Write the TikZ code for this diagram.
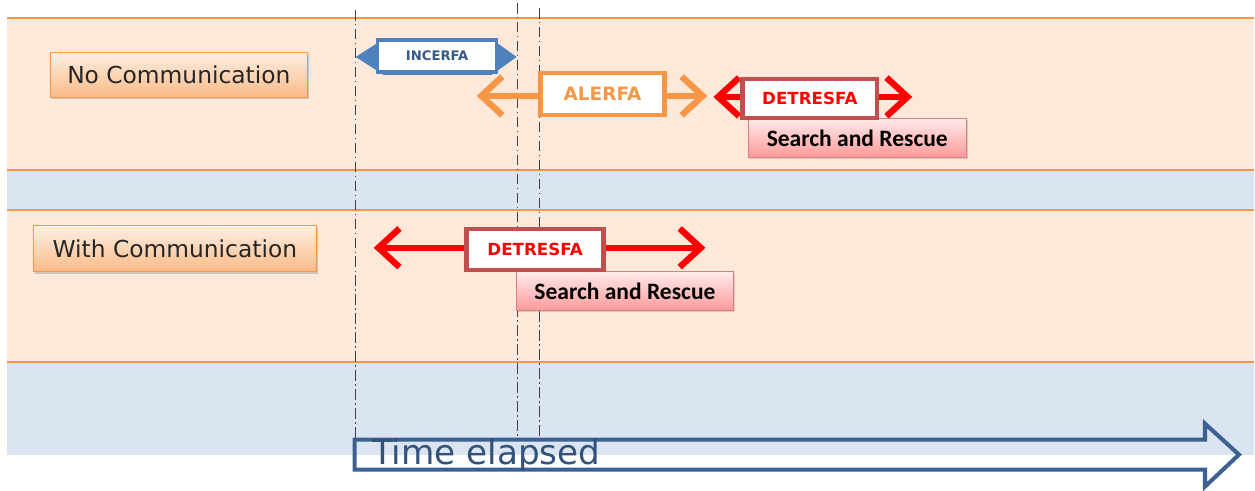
\documentclass[tikz,border=0pt]{standalone}
\usepackage{fontspec}
\setmainfont{DejaVu Sans}
\newfontfamily\calibri{Carlito}
\usetikzlibrary{arrows.meta,shadows}

\definecolor{peach}{HTML}{FDE9D9}
\definecolor{paleblue}{HTML}{DBE5F1}
\definecolor{lineorange}{HTML}{F79646}
\definecolor{incblue}{HTML}{4F81BD}
\definecolor{darkred}{HTML}{C0504D}
\definecolor{timeblue}{HTML}{3B6091}

\begin{document}
\begin{tikzpicture}[x=0.02cm, y=-0.02cm,
    rowbox/.style={draw=lineorange, top color=lineorange!15, bottom color=lineorange!65,
      minimum height=0.9cm, font=\fontsize{13.3}{15}\selectfont, text=black!85,
      drop shadow={opacity=0.35, shadow xshift=1pt, shadow yshift=-1.2pt}},
    phase/.style={fill=white, minimum height=0.8cm, font=\fontsize{9.5}{11}\selectfont\bfseries},
    sar/.style={draw=darkred!70, top color=red!8, bottom color=red!40, minimum width=4.35cm,
      minimum height=0.78cm, font=\calibri\fontsize{13.4}{15}\selectfont\bfseries,
      drop shadow={opacity=0.3, shadow xshift=1pt, shadow yshift=-1pt}},
    span/.style={line width=3.6pt, line cap=round, line join=round,
      {Straight Barb[length=12pt, width=22pt]}-{Straight Barb[length=12pt, width=22pt]}},
    mark line/.style={dash pattern=on 6pt off 2pt on 0.8pt off 2pt, line width=0.9pt, black!75}]

  % background bands
  \fill[peach] (7,18) rectangle (1255,170);
  \fill[paleblue] (7,170) rectangle (1255,210);
  \fill[peach] (7,210) rectangle (1255,362);
  \fill[paleblue] (7,362) rectangle (1255,455);
  \foreach \y in {18,170,210,362}
    \draw[lineorange, line width=1.2pt] (7,\y) -- (1255,\y);

  % time marks
  \coordinate (m1t) at (356,10);  \coordinate (m1b) at (356,440);
  \coordinate (m2t) at (518,3);   \coordinate (m2b) at (518,440);
  \coordinate (m3t) at (540,8);   \coordinate (m3b) at (540,440);
  \draw[mark line] (m1t) -- (m1b);
  \draw[mark line] (m2t) -- (m2b);
  \draw[mark line] (m3t) -- (m3b);

  \node[rowbox, minimum width=5.16cm] (nocom) at (179,74.5) {No Communication};
  \node[rowbox, minimum width=5.68cm, minimum height=0.92cm] (withcom) at (175,249) {With Communication};

  % no communication
  \fill[incblue] (356,57) -- (384,39) -- (492,39) -- (517,57) -- (492,75) -- (384,75) -- cycle;
  \node[phase, draw=incblue, line width=2pt, minimum width=2.38cm, minimum height=0.64cm,
    text=incblue!70!black, font=\fontsize{7.5}{9}\selectfont\bfseries] (incerfa) at (437.5,56) {INCERFA};

  \coordinate (alL) at (477,96);
  \coordinate (alR) at (708,96);
  \draw[span, lineorange] (alL) -- (alR);
  \node[phase, draw=lineorange, line width=2.5pt, minimum width=2.48cm, minimum height=0.84cm,
    text=lineorange, font=\fontsize{10.5}{12}\selectfont\bfseries] (alerfa) at (603,94) {ALERFA};

  \coordinate (dtL) at (714,97);
  \coordinate (dtR) at (913,97);
  \draw[span, red] (dtL) -- (dtR);
  \node[sar] (sarA) at (858,138) {Search and Rescue};
  \node[phase, draw=darkred, line width=2.5pt, minimum width=2.7cm, minimum height=0.78cm,
    text=red] (detA) at (810.5,98.5) {DETRESFA};

  % with communication
  \coordinate (dbL) at (374,248);
  \coordinate (dbR) at (706,248);
  \draw[span, red] (dbL) -- (dbR);
  \node[sar] (sarB) at (625.5,291.5) {Search and Rescue};
  \node[phase, draw=darkred, line width=2.5pt, minimum width=2.74cm, minimum height=0.82cm,
    text=red] (detB) at (535.5,249.5) {DETRESFA};

  % time axis
  \draw[timeblue, line width=2.3pt, line join=miter]
    (355,440) -- (1206,440) -- (1206,424) -- (1240,455) -- (1206,487) -- (1206,470) -- (355,470) -- cycle;
  \node[anchor=west, text=timeblue!85!black, font=\fontsize{19.5}{21}\selectfont, inner sep=0pt] (time) at (372,455) {Time elapsed};

  \useasboundingbox (0,0) rectangle (1255,491);
\end{tikzpicture}
\end{document}
